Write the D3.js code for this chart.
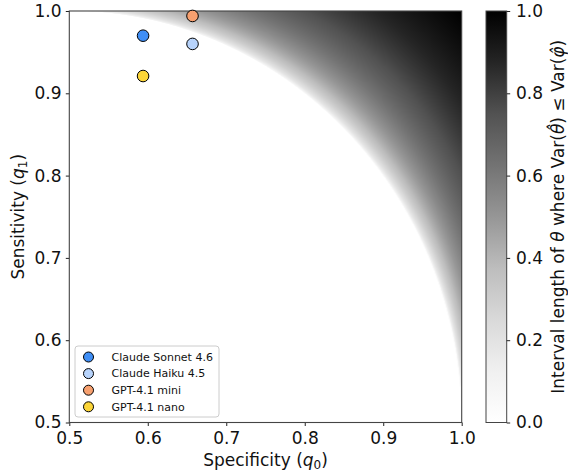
<!DOCTYPE html>
<html>
<head>
<meta charset="utf-8">
<script src="https://cdn.jsdelivr.net/npm/d3@7"></script>
<style>
  html, body { margin: 0; padding: 0; background: #fff; }
  svg { display: block; font-family: "DejaVu Sans", sans-serif; }
</style>
</head>
<body>
<svg id="chart" width="568" height="472"></svg>
<script>
// model operating points
const models = ['Claude Sonnet 4.6', 'Claude Haiku 4.5', 'GPT-4.1 mini', 'GPT-4.1 nano'];
const specificity = [0.594, 0.657, 0.657, 0.594];
const sensitivity = [0.970, 0.960, 0.994, 0.921];
const modelColors = ['#3f8ef5', '#b7d3fb', '#f7a06f', '#fcd538'];

const xTicks = [0.5, 0.6, 0.7, 0.8, 0.9, 1.0];
const yTicks = [0.5, 0.6, 0.7, 0.8, 0.9, 1.0];
const cTicks = [0.0, 0.2, 0.4, 0.6, 0.8, 1.0];

// LLM-labelled sample is this many times the human-labelled one
const sampleRatio = 2;

const svg = d3.select('#chart');
const plot = {left: 69.3, right: 461.7, top: 11, bottom: 422.5};
const cbar = {left: 486, right: 506.7};

const x = d3.scaleLinear().domain([0.5, 1]).range([plot.left, plot.right]);
const y = d3.scaleLinear().domain([0.5, 1]).range([plot.bottom, plot.top]);
const c = d3.scaleLinear().domain([0, 1]).range([plot.bottom, plot.top]);

// matplotlib Greys = straight segments between the 9 colorbrewer greys
const greys = d3.scaleLinear()
	.domain(d3.range(9).map(i => i / 8))
	.range(d3.schemeGreys[9]);

// length of theta in [0,1] where Var(rogan-gladen) <= Var(human only)
function intervalLength(q0, q1) {
	const J = q0 + q1 - 1;
	if (J <= 0) return 0;
	const a = J * J * (sampleRatio - 1),
		b = J * (2 * q0 - 1 - sampleRatio * J),
		cc = q0 * (1 - q0);
	const disc = b * b - 4 * a * cc;
	if (disc < 0) return 0;
	const s = Math.sqrt(disc);
	const lo = (-b - s) / (2 * a), hi = (-b + s) / (2 * a);
	return Math.max(0, Math.min(1, hi) - Math.max(0, lo));
}

// heat map drawn into a canvas, then put in the svg as an image
const w = Math.round(plot.right - plot.left), h = Math.round(plot.bottom - plot.top);
const canvas = document.createElement('canvas');
canvas.width = w; canvas.height = h;
const ctx = canvas.getContext('2d');
const img = ctx.createImageData(w, h);
for (let j = 0; j < h; j++) {
	const q1 = y.invert(plot.top + (j + 0.5) * (plot.bottom - plot.top) / h);
	for (let i = 0; i < w; i++) {
		const q0 = x.invert(plot.left + (i + 0.5) * (plot.right - plot.left) / w);
		const col = d3.rgb(greys(intervalLength(q0, q1)));
		const k = (j * w + i) * 4;
		img.data[k] = col.r; img.data[k + 1] = col.g; img.data[k + 2] = col.b; img.data[k + 3] = 255;
	}
}
ctx.putImageData(img, 0, 0);

svg.append('image')
	.attr('x', plot.left).attr('y', plot.top)
	.attr('width', plot.right - plot.left).attr('height', plot.bottom - plot.top)
	.attr('preserveAspectRatio', 'none')
	.attr('href', canvas.toDataURL());

function styleAxis(g) {
	g.select('.domain').remove();
	g.selectAll('line').attr('stroke', '#222').attr('stroke-width', 1);
	g.selectAll('text').attr('fill', '#111').attr('font-size', 17).attr('font-family', '"DejaVu Sans", sans-serif');
}

svg.append('g')
	.attr('transform', `translate(0,${plot.bottom})`)
	.call(d3.axisBottom(x).tickValues(xTicks).tickFormat(d3.format('.1f')).tickSize(3.5).tickPadding(6))
	.call(styleAxis);

svg.append('g')
	.attr('transform', `translate(${plot.left},0)`)
	.call(d3.axisLeft(y).tickValues(yTicks).tickFormat(d3.format('.1f')).tickSize(3.5).tickPadding(4.3))
	.call(styleAxis);

// frame
svg.append('rect')
	.attr('x', plot.left).attr('y', plot.top)
	.attr('width', plot.right - plot.left).attr('height', plot.bottom - plot.top)
	.attr('fill', 'none').attr('stroke', '#444').attr('stroke-width', 1.1);

// model points
svg.append('g').selectAll('circle')
	.data(models)
	.join('circle')
	.attr('cx', (d, i) => x(specificity[i]))
	.attr('cy', (d, i) => y(sensitivity[i]))
	.attr('r', 5.8)
	.attr('fill', (d, i) => modelColors[i])
	.attr('stroke', '#000').attr('stroke-width', 1);

// legend
const legend = svg.append('g');
legend.append('rect')
	.attr('x', 75).attr('y', 346).attr('width', 144).attr('height', 71).attr('rx', 3)
	.attr('fill', '#fff').attr('fill-opacity', 0.8)
	.attr('stroke', '#ccc').attr('stroke-width', 1);
const item = legend.selectAll('g.item')
	.data(models)
	.join('g').attr('class', 'item')
	.attr('transform', (d, i) => `translate(88.5,${357 + i * 16.6})`);
item.append('circle')
	.attr('r', 5).attr('fill', (d, i) => modelColors[i])
	.attr('stroke', '#000').attr('stroke-width', 1);
item.append('text')
	.attr('x', 23).attr('dy', '0.35em')
	.attr('font-size', 11).attr('fill', '#111')
	.text(d => d);

// axis labels
const xl = svg.append('text')
	.attr('x', (plot.left + plot.right) / 2).attr('y', 466)
	.attr('text-anchor', 'middle').attr('font-size', 17).attr('fill', '#111');
xl.append('tspan').text('Specificity (');
xl.append('tspan').attr('font-style', 'italic').text('q');
xl.append('tspan').attr('font-size', 12).attr('dy', 3).text('0');
xl.append('tspan').attr('dy', -3).text(')');

const yl = svg.append('text')
	.attr('transform', `translate(23.5,${(plot.top + plot.bottom) / 2}) rotate(-90)`)
	.attr('text-anchor', 'middle').attr('font-size', 17).attr('fill', '#111');
yl.append('tspan').text('Sensitivity (');
yl.append('tspan').attr('font-style', 'italic').text('q');
yl.append('tspan').attr('font-size', 12).attr('dy', 3).text('1');
yl.append('tspan').attr('dy', -3).text(')');

// colour bar
const grad = svg.append('defs').append('linearGradient')
	.attr('id', 'cb').attr('x1', 0).attr('y1', 1).attr('x2', 0).attr('y2', 0);
grad.selectAll('stop')
	.data(greys.domain())
	.join('stop')
	.attr('offset', d => d)
	.attr('stop-color', d => greys(d));

svg.append('rect')
	.attr('x', cbar.left).attr('y', plot.top)
	.attr('width', cbar.right - cbar.left).attr('height', plot.bottom - plot.top)
	.attr('fill', 'url(#cb)').attr('stroke', '#444').attr('stroke-width', 1);

svg.append('g')
	.attr('transform', `translate(${cbar.right},0)`)
	.call(d3.axisRight(c).tickValues(cTicks).tickFormat(d3.format('.1f')).tickSize(3.5).tickPadding(5.8))
	.call(styleAxis);

const cl = svg.append('text')
	.attr('transform', `translate(564,${(plot.top + plot.bottom) / 2}) rotate(-90)`)
	.attr('text-anchor', 'middle').attr('font-size', 17).attr('fill', '#111');
cl.append('tspan').text('Interval length of ');
cl.append('tspan').attr('font-style', 'italic').text('θ');
cl.append('tspan').text(' where Var(');
cl.append('tspan').attr('font-style', 'italic').text('θ\u0302');
cl.append('tspan').text(')  \u2264  Var(');
cl.append('tspan').attr('font-style', 'italic').text('φ\u0302');
cl.append('tspan').text(')');
</script>
</body>
</html>
